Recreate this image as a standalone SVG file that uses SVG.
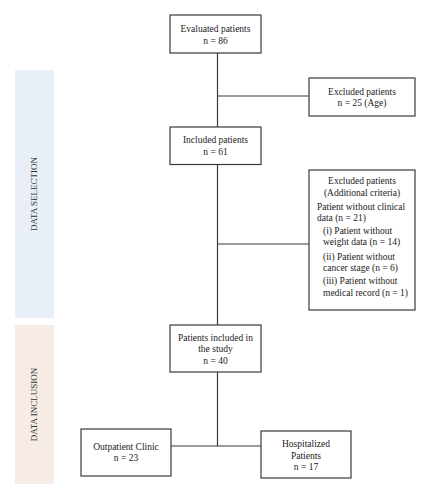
<svg xmlns="http://www.w3.org/2000/svg" width="430" height="500" viewBox="0 0 430 500">
<style>
.box{fill:#fff;stroke:#3a3a3a;stroke-width:1.2}
.ln{stroke:#3a3a3a;stroke-width:1.2;fill:none}
text{font-family:"Liberation Serif","Times New Roman",serif;font-size:9.5px;fill:#222}
.c{text-anchor:middle}
.band{font-size:9px;fill:#333;text-anchor:middle}
</style>
<rect width="430" height="500" fill="#fff"/>
<g id="band-selection">
<rect x="15" y="70" width="39" height="248" fill="#e9eff7"/>
<text class="band" transform="translate(37,194) rotate(-90)">DATA SELECTION</text>
</g>
<g id="band-inclusion">
<rect x="15" y="325" width="39" height="159" fill="#f6ece5"/>
<text class="band" transform="translate(37,404.5) rotate(-90)">DATA INCLUSION</text>
</g>
<g id="connectors">
<line class="ln" x1="217.5" y1="53" x2="217.5" y2="127"/>
<line class="ln" x1="217.5" y1="96" x2="309" y2="96"/>
<line class="ln" x1="217.5" y1="164.5" x2="217.5" y2="325"/>
<line class="ln" x1="217.5" y1="244" x2="309" y2="244"/>
<line class="ln" x1="217.5" y1="372" x2="217.5" y2="446"/>
<line class="ln" x1="171" y1="446" x2="261" y2="446"/>
</g>
<g id="evaluated">
<rect class="box" x="170" y="15" width="91" height="38"/>
<text class="c" x="215.5" y="31.5">Evaluated patients</text>
<text class="c" x="215.5" y="43.5">n = 86</text>
</g>
<g id="excluded-age">
<rect class="box" x="309" y="78" width="106" height="38"/>
<text class="c" x="362" y="94.5">Excluded patients</text>
<text class="c" x="362" y="105.5">n = 25 (Age)</text>
</g>
<g id="included">
<rect class="box" x="170" y="127" width="91" height="37.5"/>
<text class="c" x="215.5" y="142.5">Included patients</text>
<text class="c" x="215.5" y="154.5">n = 61</text>
</g>
<g id="excluded-additional">
<rect class="box" x="309" y="170" width="106" height="140"/>
<text class="c" x="362" y="183.5">Excluded patients</text>
<text class="c" x="362" y="195.5">(Additional criteria)</text>
<text x="317" y="209.5">Patient without clinical</text>
<text x="317" y="220.5">data (n = 21)</text>
<text x="323" y="233.5">(i) Patient without</text>
<text x="323" y="244.5">weight data (n = 14)</text>
<text x="323" y="259.5">(ii) Patient without</text>
<text x="323" y="270.5">cancer stage (n = 6)</text>
<text x="323" y="283.5">(iii) Patient without</text>
<text x="323" y="295.5">medical record (n = 1)</text>
</g>
<g id="study">
<rect class="box" x="170" y="325" width="91" height="47"/>
<text class="c" x="215.5" y="340.5">Patients included in</text>
<text class="c" x="215.5" y="351.5">the study</text>
<text class="c" x="215.5" y="363.5">n = 40</text>
</g>
<g id="outpatient">
<rect class="box" x="81" y="429" width="90" height="47"/>
<text class="c" x="126" y="449.5">Outpatient Clinic</text>
<text class="c" x="126" y="460.5">n = 23</text>
</g>
<g id="hospitalized">
<rect class="box" x="261" y="431" width="90" height="47"/>
<text class="c" x="306" y="446.5">Hospitalized</text>
<text class="c" x="306" y="458.5">Patients</text>
<text class="c" x="306" y="469.5">n = 17</text>
</g>
</svg>
